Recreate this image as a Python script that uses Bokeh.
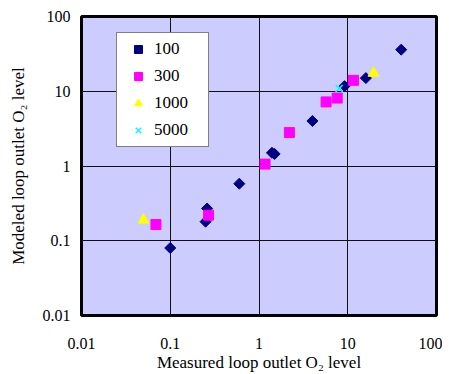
from bokeh.plotting import figure
from bokeh.models import FixedTicker, CustomJSTickFormatter, Legend, LegendItem
from bokeh.embed import file_html
from bokeh.resources import INLINE

# Series data (measured, modeled)
x100 = [40, 16, 9.2, 4.0, 1.4, 1.5, 0.6, 0.26, 0.25, 0.1]
y100 = [36, 15, 11.7, 4.0, 1.5, 1.45, 0.58, 0.27, 0.18, 0.08]
x300 = [11.6, 7.6, 5.7, 2.2, 1.17, 0.27, 0.069]
y300 = [14, 8.1, 7.2, 2.8, 1.06, 0.22, 0.165]
x1000 = [19.5, 0.05]
y1000 = [17.5, 0.19]
x5000 = [8.0]
y5000 = [10.9]
ticks = [0.01, 0.1, 1, 10, 100]

FONT = "Liberation Serif"

p = figure(x_axis_type="log", y_axis_type="log",
           x_range=(0.01, 100), y_range=(0.01, 100),
           frame_width=355, frame_height=299,
           min_border_left=81, min_border_right=6,
           min_border_top=16, min_border_bottom=57,
           output_backend="svg", toolbar_location=None)

p.border_fill_color = "white"
p.outline_line_color = "black"
p.outline_line_width = 3
p.background_fill_color = "#CCCCFF"

for ax in (p.xaxis[0], p.yaxis[0]):
    ax.ticker = FixedTicker(ticks=ticks, minor_ticks=[])
    ax.formatter = CustomJSTickFormatter(code="return String(Number(tick.toPrecision(3)));")
    ax.major_tick_in = 0
    ax.major_tick_out = 0
    ax.minor_tick_in = 0
    ax.minor_tick_out = 0
    ax.axis_line_color = None
    ax.major_label_text_font = FONT
    ax.major_label_text_font_size = "16px"
    ax.major_label_text_font_style = "normal"
    ax.major_label_text_color = "black"
    ax.axis_label_text_font = FONT
    ax.axis_label_text_font_size = "17px"
    ax.axis_label_text_font_style = "normal"
    ax.axis_label_text_color = "black"

p.xaxis.axis_label = "Measured loop outlet O\u2082 level"
p.yaxis.axis_label = "Modeled loop outlet O\u2082 level"
p.xaxis.major_label_standoff = 22
p.yaxis.major_label_standoff = 11
p.xaxis.axis_label_standoff = 1
p.yaxis.axis_label_standoff = 12

p.xgrid.ticker = FixedTicker(ticks=ticks)
p.ygrid.ticker = FixedTicker(ticks=ticks)
p.grid.grid_line_color = "#111111"
p.grid.grid_line_width = 1

r100 = p.scatter(x100, y100, marker="square", angle=0.785398, size=7.8,
                 fill_color="#000080", line_color="#000080")
r300 = p.scatter(x300, y300, marker="square", size=10,
                 fill_color="#FF00FF", line_color="#FF00FF")
r1000 = p.scatter(x1000, y1000, marker="triangle", size=11,
                  fill_color="#FFFF00", line_color="#FFFF00")
r5000 = p.scatter(x5000, y5000, marker="x", size=10,
                  line_color="#00FFFF", line_width=1.5)

legend = Legend(items=[
    LegendItem(label="100", renderers=[r100]),
    LegendItem(label="300", renderers=[r300]),
    LegendItem(label="1000", renderers=[r1000]),
    LegendItem(label="5000", renderers=[r5000]),
], location=(35, 168))
legend.label_text_font = FONT
legend.label_text_font_size = "17px"
legend.label_text_font_style = "normal"
legend.label_text_color = "black"
legend.padding = 6
legend.spacing = 7
legend.glyph_height = 20
legend.label_height = 20
legend.glyph_width = 30
legend.label_standoff = 1
legend.label_width = 48
legend.border_line_color = "black"
legend.border_line_width = 1
legend.background_fill_color = "white"
legend.background_fill_alpha = 1
legend.margin = 0
p.add_layout(legend, "center")

open("out.html", "w").write(file_html(p, INLINE))
